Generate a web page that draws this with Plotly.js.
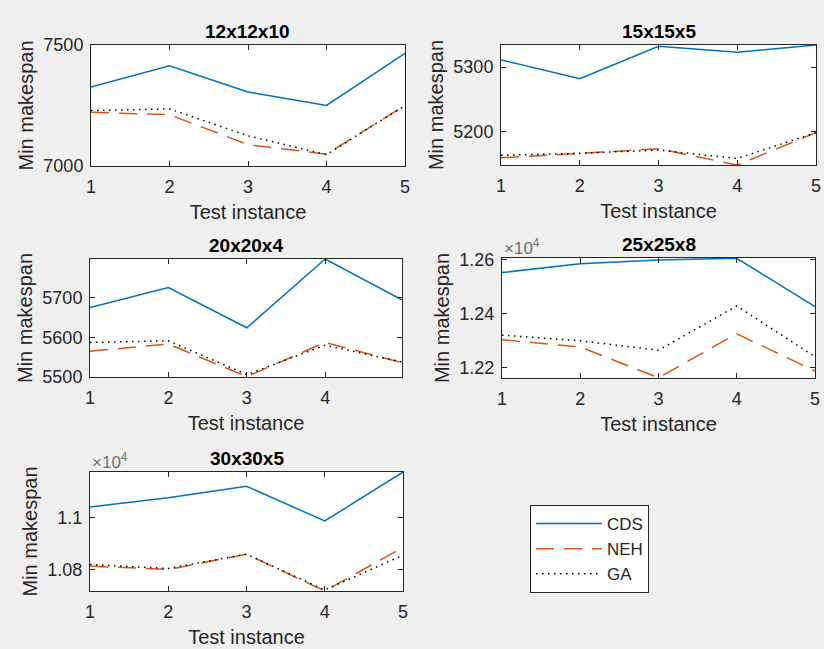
<!DOCTYPE html>
<html><head><meta charset="utf-8">
<script src="https://cdn.plot.ly/plotly-3.0.1.min.js"></script>
<style>html,body{margin:0;padding:0;background:#f0f0f0}</style>
</head><body><div id="chart" style="width:824px;height:649px"></div>
<script>
// ---- data ----
const instances = [1, 2, 3, 4, 5];
const seriesNames = ['CDS', 'NEH', 'GA'];
const panelTitles = ['12x12x10', '15x15x5', '20x20x4', '25x25x8', '30x30x5'];

const cds12 = [7326, 7414, 7306, 7250, 7465];
const neh12 = [7222, 7212, 7088, 7049, 7250];
const ga12  = [7229, 7236, 7125, 7047, 7250];

const cds15 = [5311, 5282, 5332, 5323, 5334];
const neh15 = [5160, 5167, 5174, 5149, 5199];
const ga15  = [5164, 5167, 5172, 5159, 5199];

const cds20 = [5675, 5725, 5624, 5797, 5692];
const neh20 = [5565, 5583, 5501, 5587, 5535];
const ga20  = [5587, 5591, 5506, 5580, 5537];

const cds25 = [12551, 12584, 12598, 12604, 12425];
const neh25 = [12302, 12275, 12161, 12324, 12186];
const ga25  = [12319, 12298, 12263, 12427, 12239];

const cds30 = [11041, 11077, 11121, 10987, 11176];
const neh30 = [10813, 10800, 10859, 10717, 10885];
const ga30  = [10819, 10804, 10859, 10721, 10855];

const yTicks12 = [7000, 7500];       const yTickText12 = ['7000', '7500'];
const yTicks15 = [5200, 5300];       const yTickText15 = ['5200', '5300'];
const yTicks20 = [5500, 5600, 5700]; const yTickText20 = ['5500', '5600', '5700'];
const yTicks25 = [12200, 12400, 12600]; const yTickText25 = ['1.22', '1.24', '1.26'];
const yTicks30 = [10800, 11000];     const yTickText30 = ['1.08', '1.1'];
const xTicksAll = [1, 2, 3, 4, 5];
const xTicks20 = [1, 2, 3, 4];

// ---- styling ----
const W = 824, H = 649;
const FONT = 'Liberation Sans, Arial, sans-serif';
const AX = '#262626';
const lineStyles = [
  {color: '#0072BD', width: 1.5, dash: 'solid'},
  {color: '#D95319', width: 1.5, dash: '18px,10px'},
  {color: '#000000', width: 1.5, dash: '1.5px,4.5px'}
];
// pixel boxes [left, right, top, bottom]
const boxes = [
  [91, 405, 45, 166],
  [501, 816, 45, 165],
  [90, 402, 259, 377],
  [502, 815, 258, 378],
  [90, 403, 472, 591]
];
const panels = [
  {s: [cds12, neh12, ga12], yr: [7000, 7500], yt: yTicks12, ytt: yTickText12, xr: [1, 5], xt: xTicksAll},
  {s: [cds15, neh15, ga15], yr: [5149, 5334], yt: yTicks15, ytt: yTickText15, xr: [1, 5], xt: xTicksAll},
  {s: [cds20, neh20, ga20], yr: [5500, 5797], yt: yTicks20, ytt: yTickText20, xr: [1, 4.98], xt: xTicks20},
  {s: [cds25, neh25, ga25], yr: [12160, 12605], yt: yTicks25, ytt: yTickText25, xr: [1, 5], xt: xTicksAll, exp: true},
  {s: [cds30, neh30, ga30], yr: [10717, 11176], yt: yTicks30, ytt: yTickText30, xr: [1, 5], xt: xTicksAll, exp: true}
];

const traces = [];
const layout = {
  width: W, height: H,
  margin: {l: 0, r: 0, t: 0, b: 0},
  paper_bgcolor: '#f0f0f0',
  plot_bgcolor: '#ffffff',
  font: {family: FONT, color: AX, size: 18},
  showlegend: true,
  legend: {
    x: 530 / W, y: 1 - 505 / H, xanchor: 'left', yanchor: 'top',
    bgcolor: '#ffffff', bordercolor: AX, borderwidth: 1,
    font: {family: FONT, size: 17, color: AX},
    itemwidth: 66, tracegroupgap: 0
  },
  annotations: []
};

panels.forEach((p, i) => {
  const n = i === 0 ? '' : String(i + 1);
  const b = boxes[i];
  p.s.forEach((ys, k) => {
    traces.push({
      type: 'scatter', mode: 'lines',
      x: instances, y: ys,
      name: seriesNames[k],
      legendgroup: seriesNames[k],
      showlegend: i === 0,
      line: lineStyles[k],
      xaxis: 'x' + n, yaxis: 'y' + n,
      cliponaxis: true,
      hoverinfo: 'skip'
    });
  });
  const common = {
    showline: true, linecolor: AX, linewidth: 1, mirror: 'ticks',
    ticks: 'inside', ticklen: 5, tickcolor: AX, tickwidth: 1,
    showgrid: false, zeroline: false, fixedrange: true,
    tickfont: {family: FONT, size: 18, color: AX}
  };
  layout['xaxis' + n] = Object.assign({}, common, {
    domain: [b[0] / W, b[1] / W],
    range: p.xr, tickmode: 'array', tickvals: p.xt,
    ticktext: p.xt.map(String),
    ticklabelstandoff: 4,
    anchor: 'y' + n,
    title: {text: 'Test instance', font: {family: FONT, size: 20, color: AX}, standoff: 9}
  });
  layout['yaxis' + n] = Object.assign({}, common, {
    domain: [1 - b[3] / H, 1 - b[2] / H],
    range: p.yr, tickmode: 'array', tickvals: p.yt, ticktext: p.ytt,
    ticklabelstandoff: 3,
    anchor: 'x' + n,
    title: {text: 'Min makespan', font: {family: FONT, size: 20, color: AX}, standoff: 4}
  });
  layout.annotations.push({
    text: '<b>' + panelTitles[i] + '</b>',
    xref: 'paper', yref: 'paper',
    x: (b[0] + b[1]) / 2 / W, y: 1 - b[2] / H,
    xanchor: 'center', yanchor: 'bottom', yshift: 1,
    showarrow: false,
    font: {family: FONT, size: 19, color: '#000000'}
  });
  if (p.exp) {
    layout.annotations.push({
      text: '\u00d710<sup>4</sup>',
      xref: 'paper', yref: 'paper',
      x: b[0] / W, y: 1 - b[2] / H,
      xanchor: 'left', yanchor: 'bottom', yshift: -2,
      showarrow: false,
      font: {family: FONT, size: 17, color: '#707070'}
    });
  }
});

Plotly.newPlot('chart', traces, layout, {staticPlot: true});
</script></body></html>
